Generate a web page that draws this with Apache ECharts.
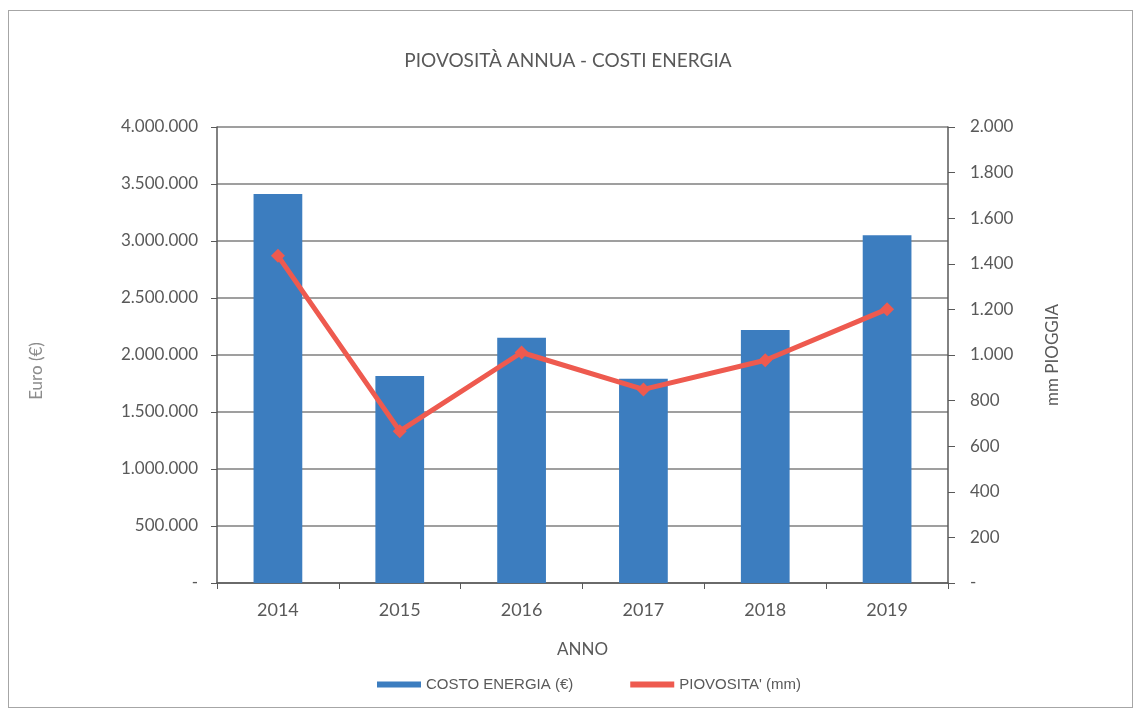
<!DOCTYPE html>
<html>
<head>
<meta charset="utf-8">
<script src="https://cdn.jsdelivr.net/npm/echarts@6/dist/echarts.min.js"></script>
<style>
  html, body { margin: 0; padding: 0; background: #fff; }
  #frame { position: absolute; left: 8px; top: 10px; width: 1125px; height: 698px; border: 1px solid #a6a6a6; box-sizing: border-box; }
  #chart { position: absolute; left: 0; top: 0; width: 1136px; height: 711px; }
</style>
</head>
<body>
<div id="frame"></div>
<div id="chart"></div>
<script>
// Anni e valori
const years = ['2014', '2015', '2016', '2017', '2018', '2019'];
const costoEnergia = [3413000, 1815000, 2151000, 1791000, 2219000, 3050000];
const piovosita = [1435, 666, 1011, 849, 977, 1201];

// Formato numerico italiano, zero come trattino
function fmt(v) {
  if (v === 0) return '-';
  return String(Math.round(v)).replace(/\B(?=(\d{3})+(?!\d))/g, '.');
}

const FONT = 'Lato, "Open Sans", sans-serif';
const labelFont = { fontFamily: FONT, fontSize: 17, color: '#595959' };

const chart = echarts.init(document.getElementById('chart'));
chart.setOption({
  animation: false,
  backgroundColor: 'transparent',
  title: {
    text: 'PIOVOSITÀ ANNUA - COSTI ENERGIA',
    left: 'center',
    top: 46,
    textStyle: { fontFamily: FONT, fontSize: 19, fontWeight: 'normal', color: '#595959' }
  },
  grid: { left: 217, right: 188, top: 127, bottom: 128 },
  legend: {
    bottom: 14,
    left: 372,
    itemGap: 57,
    itemWidth: 44,
    itemHeight: 6,
    textStyle: { fontFamily: '"Liberation Sans", Arial, sans-serif', fontSize: 15, color: '#595959' },
    data: [
      { name: 'COSTO ENERGIA (€)', icon: 'rect' },
      { name: "PIOVOSITA' (mm)", icon: 'rect', itemStyle: { color: '#ee5a4f' } }
    ]
  },
  xAxis: {
    type: 'category',
    data: years,
    name: 'ANNO',
    nameLocation: 'middle',
    nameGap: 58,
    nameTextStyle: labelFont,
    axisLine: { lineStyle: { color: '#595959', width: 1.5 } },
    axisTick: { show: true, alignWithLabel: false, length: 6, lineStyle: { color: '#595959' } },
    axisLabel: Object.assign({ margin: 18 }, labelFont, { fontSize: 18 })
  },
  yAxis: [
    {
      type: 'value',
      min: 0,
      max: 4000000,
      interval: 500000,
      name: 'Euro (€)',
      nameLocation: 'middle',
      nameGap: 172,
      nameTextStyle: { fontFamily: FONT, fontSize: 17, color: '#8c8c8c', padding: [0, 32, 0, 0] },
      axisLine: { show: true, lineStyle: { color: '#595959', width: 1.5 } },
      axisTick: { show: true, length: 6, lineStyle: { color: '#595959' } },
      axisLabel: Object.assign({ margin: 19, formatter: fmt }, labelFont),
      splitLine: { show: true, lineStyle: { color: '#7f7f7f', width: 1.5 } }
    },
    {
      type: 'value',
      min: 0,
      max: 2000,
      interval: 200,
      name: 'mm PIOGGIA',
      nameLocation: 'middle',
      nameGap: 96,
      nameTextStyle: labelFont,
      axisLine: { show: true, lineStyle: { color: '#595959', width: 1.5 } },
      axisTick: { show: true, length: 7, lineStyle: { color: '#595959' } },
      axisLabel: Object.assign({ margin: 22, formatter: fmt }, labelFont),
      splitLine: { show: false }
    }
  ],
  series: [
    {
      name: 'COSTO ENERGIA (€)',
      type: 'bar',
      data: costoEnergia,
      yAxisIndex: 0,
      barWidth: '40%',
      itemStyle: { color: '#3c7dbf' }
    },
    {
      name: "PIOVOSITA' (mm)",
      type: 'line',
      data: piovosita,
      yAxisIndex: 1,
      symbol: 'diamond',
      symbolSize: 14,
      lineStyle: { color: '#ee5a4f', width: 5 },
      itemStyle: { color: '#ee5a4f' }
    }
  ]
});
</script>
</body>
</html>
